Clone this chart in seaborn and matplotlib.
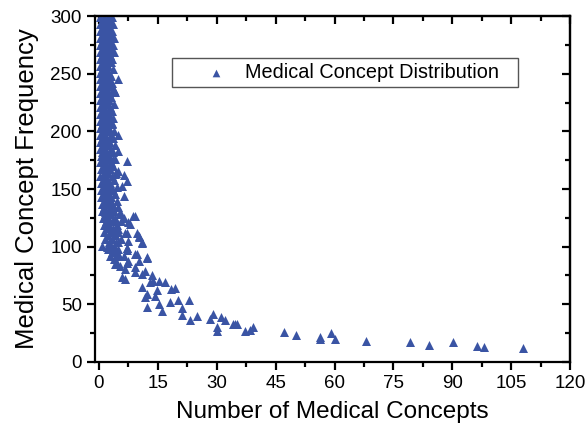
import numpy as np
import pandas as pd
import matplotlib
matplotlib.use("Agg")
import matplotlib.pyplot as plt
from matplotlib.ticker import MultipleLocator
import seaborn as sns

# dense band near the y axis: one frequency per row, the concept counts seen at it
band_y = [299, 296, 293, 290, 287, 284, 281, 278, 275, 272,
          269, 266, 263, 260, 257, 254, 251, 248, 245, 242,
          239, 236, 233, 230, 227, 224, 221, 218, 215, 212,
          209, 206, 203, 200, 197, 194, 191, 188, 185, 182,
          179, 176, 173, 170, 167, 164, 161, 158, 155, 152,
          149, 146, 143, 140, 137, 134, 131, 128, 125, 122,
          119, 116, 113, 110, 107, 104, 101, 98, 95, 92,
          89, 86, 83]
band_x = [[0.4, 1.3, 2.3, 3.3], [0.9, 1.8, 2.8], [0.3, 1.2, 2.1, 3.6], [0.8, 1.7, 2.6],
          [0.4, 1.4, 2.4, 3.4], [1.0, 2.0, 3.0], [0.3, 1.3, 2.2, 3.8], [0.8, 1.8, 2.8],
          [0.4, 1.3, 2.4, 3.5], [1.0, 2.0, 3.0], [0.3, 1.4, 2.3, 3.9], [0.8, 1.8, 2.9],
          [0.4, 1.3, 2.4, 3.4], [1.0, 2.0, 3.1], [0.3, 1.4, 2.4], [0.9, 1.9, 3.6],
          [0.4, 1.4, 2.5], [1.0, 2.1, 3.2], [0.3, 1.3, 2.6], [0.8, 1.9, 3.3],
          [0.4, 1.5, 2.7], [1.0, 2.1, 3.8], [0.3, 1.3, 2.5], [0.8, 1.8, 3.2],
          [0.4, 1.4, 2.6], [1.0, 2.2, 3.9], [0.3, 1.4, 2.8], [0.9, 1.9, 3.4],
          [0.4, 1.5, 2.6], [1.1, 2.2, 3.7], [0.3, 1.4, 2.9], [0.8, 1.9, 3.4],
          [0.4, 1.5, 2.6], [1.0, 2.2, 3.9], [0.3, 1.4, 3.0], [0.9, 2.0, 3.5],
          [0.4, 1.5, 2.7], [1.1, 2.3, 4.0], [0.3, 1.5, 3.1], [0.9, 2.0, 3.6],
          [0.5, 1.6, 2.7], [1.1, 2.3, 4.2], [0.4, 1.5, 3.2], [1.0, 2.1, 3.7],
          [0.5, 1.7, 2.8], [1.2, 2.4, 4.3], [0.4, 1.6, 3.3], [1.0, 2.2, 3.8],
          [0.5, 1.7, 2.9], [1.2, 2.5, 4.5], [0.5, 1.8, 3.6], [1.1, 2.4, 4.0],
          [0.6, 1.8, 3.1], [1.3, 2.6, 4.6], [0.7, 2.0, 3.4], [1.4, 2.8, 5.0],
          [0.9, 2.2, 3.8], [1.6, 3.0, 5.3], [1.0, 2.4, 4.2], [1.8, 3.3, 5.6],
          [1.2, 2.7, 4.5], [2.0, 3.6], [1.4, 3.0, 5.0], [2.3, 4.0],
          [1.6, 3.3, 5.6], [2.5, 4.4], [0.9, 3.0], [2.2, 4.8],
          [3.3], [2.8, 5.2], [3.8], [4.5], [5.5]]

# scattered points right of the band
upper_x = [4.8, 3.7, 4.1, 2.9, 2.5, 2.9, 3.3, 5.0, 5.0, 2.5,
           7.1, 3.7, 5.0, 2.0, 4.1, 6.3]
upper_y = [245, 237, 234, 282, 269, 212, 207, 197, 183, 192,
           174, 176, 166, 169, 163, 162]

mid_x = [7.1, 5.8, 6.3, 3.3, 1.8, 1.6, 3.7, 5.4, 6.3, 8.8,
         4.1, 7.5, 2.5, 5.0, 4.1, 6.7, 9.6, 10.1, 10.9, 7.5,
         5.0, 2.0, 4.1, 7.1, 4.6, 6.3, 9.2, 12.2, 7.5,
         9.1, 8.0, 7.1, 10.1, 10.9, 7.1, 7.1, 4.6, 9.6, 12.2,
         10.1, 7.1, 4.1, 9.2, 6.7, 11.8, 11.1, 13.5, 5.8, 9.2,
         13.9, 13.0, 15.2, 16.8, 18.4, 19.4, 14.7, 12.2, 14.3, 6.7,
         10.9, 11.8, 12.2, 15.2, 16.0, 18.1, 20.2, 21.1, 21.1, 22.9,
         23.2, 25.1, 29.1, 28.3, 30.2, 30.2, 31.2, 32.2, 34.2, 35.2]
mid_y = [157, 153, 144, 150, 141, 130, 136, 130, 125, 127,
         124, 121, 117, 115, 111, 112, 112, 108, 104, 105,
         104, 100, 99, 99, 92, 92, 94, 91, 88,
         127, 120, 112, 109, 103, 97, 99, 95, 94, 90,
         88, 86, 85, 82, 81, 79, 76, 75, 74, 78,
         70, 69, 70, 69, 63, 64, 62, 59, 57, 72,
         65, 56, 48, 50, 44, 52, 54, 47, 41, 54,
         36, 40, 42, 37, 30, 27, 39, 36, 33, 33]

tail_x = [34.6, 37.1, 38.4, 39.3, 47.1, 50.3, 56.2, 56.2, 59.1, 60.2,
          68.0, 79.2, 84.1, 90.2, 96.2, 98.1, 108.0]
tail_y = [33, 27, 28, 30, 26, 23, 22, 20, 25, 20,
          18, 17, 15, 17, 14, 13, 12]

xs, ys = [], []
for y, row in zip(band_y, band_x):
    for x in row:
        xs.append(x)
        ys.append(y)
df = pd.DataFrame({
    "concepts": xs + upper_x + mid_x + tail_x,
    "frequency": ys + upper_y + mid_y + tail_y,
})

sns.set_style("ticks")
plt.rcParams["font.family"] = ["Liberation Sans", "DejaVu Sans"]
plt.rcParams.update({"text.color": "black", "axes.labelcolor": "black",
                     "xtick.color": "black", "ytick.color": "black"})

fig, ax = plt.subplots(figsize=(5.86, 4.33), dpi=100)
fig.subplots_adjust(left=0.162, right=0.973, bottom=0.164, top=0.963)

sns.scatterplot(data=df, x="concepts", y="frequency", marker="^", color="#3A54A4",
                s=42, linewidth=0, label="Medical Concept Distribution", ax=ax)

ax.set_xlim(-1, 120)
ax.set_ylim(0, 300)
ax.set_xticks(range(0, 121, 15))
ax.set_yticks(range(0, 301, 50))
ax.xaxis.set_minor_locator(MultipleLocator(7.5))
ax.yaxis.set_minor_locator(MultipleLocator(25))
ax.tick_params(which="major", direction="out", length=6, width=1.6, labelsize=13.5)
ax.tick_params(which="minor", direction="out", length=3.5, width=1.6)
for sp in ax.spines.values():
    sp.set_visible(True)
    sp.set_linewidth(1.6)
    sp.set_color("black")

# mirrored ticks on top and right pointing inwards
top = ax.secondary_xaxis("top")
top.set_xticks(range(0, 121, 15))
top.xaxis.set_minor_locator(MultipleLocator(7.5))
top.tick_params(which="major", direction="in", length=6, width=1.6, labeltop=False)
top.tick_params(which="minor", direction="in", length=3.5, width=1.6)
top.spines["top"].set_linewidth(1.6)
right = ax.secondary_yaxis("right")
right.set_yticks(range(0, 301, 50))
right.yaxis.set_minor_locator(MultipleLocator(25))
right.tick_params(which="major", direction="in", length=6, width=1.6, labelright=False)
right.tick_params(which="minor", direction="in", length=3.5, width=1.6)
right.spines["right"].set_linewidth(1.6)

ax.set_xlabel("Number of Medical Concepts", fontsize=17.5, labelpad=6)
ax.set_ylabel("Medical Concept Frequency", fontsize=18.5, labelpad=8)

leg = ax.legend(loc="upper left", bbox_to_anchor=(0.162, 0.795, 0.729, 0.084), mode="expand",
                fontsize=14.3, frameon=True, fancybox=False, framealpha=1, edgecolor="#555555",
                handlelength=3.94, handletextpad=-0.5, borderpad=0.25, borderaxespad=0,
                markerscale=0.85)
leg.get_frame().set_linewidth(1.0)

fig.savefig("out.png", dpi=100)
